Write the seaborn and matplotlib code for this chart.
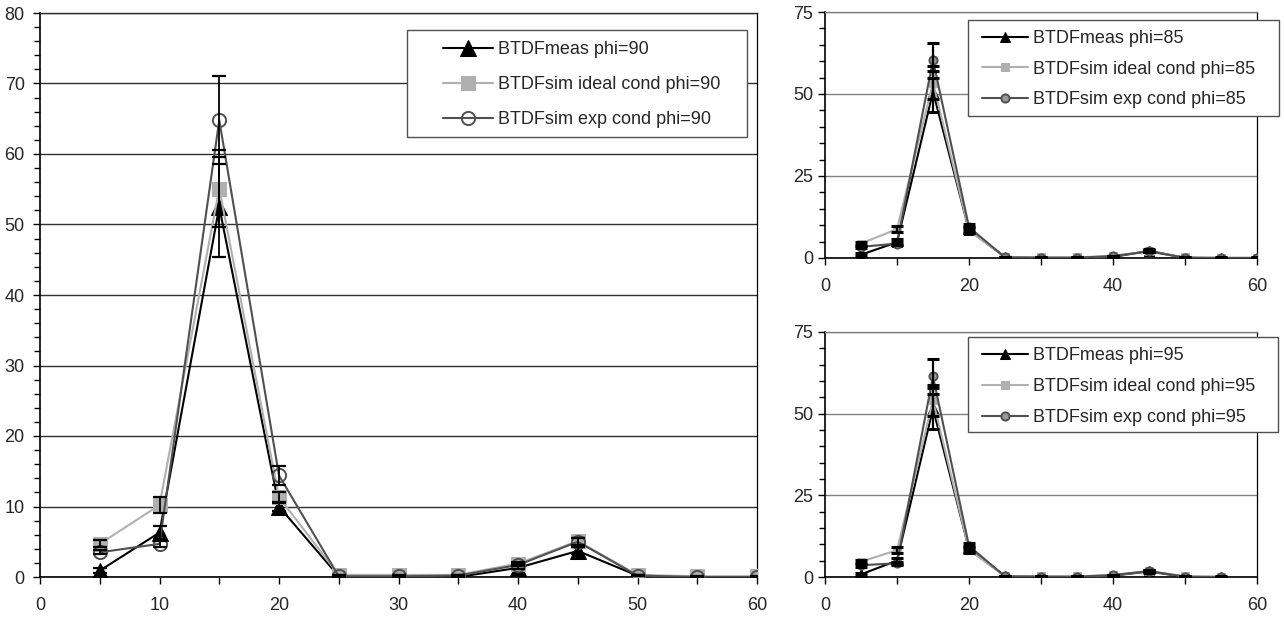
import numpy as np
import pandas as pd
import matplotlib
matplotlib.use("Agg")
import matplotlib.pyplot as plt
from matplotlib.patches import Rectangle
from matplotlib.ticker import MultipleLocator
import seaborn as sns

# Incidence angle (deg)
angle = [5, 10, 15, 20, 25, 30, 35, 40, 45, 50, 55, 60]
angle_95 = [5, 10, 15, 20, 25, 30, 35, 40, 45, 50, 55]

# phi = 90
meas_90 = [0.9, 6.3, 52.5, 10.0, 0.1, 0.1, 0.0, 1.3, 3.7, 0.2, 0.0, 0.0]
meas_90_err = [0.4, 0.95, 7.1, 0.7, 0.05, 0.05, 0.05, 0.2, 0.5, 0.05, 0.05, 0.05]
ideal_90 = [4.7, 10.2, 55.1, 11.3, 0.3, 0.3, 0.3, 1.9, 5.1, 0.3, 0.1, 0.1]
ideal_90_err = [0.5, 1.1, 5.4, 0.8, 0.05, 0.05, 0.05, 0.2, 0.5, 0.05, 0.05, 0.05]
exp_90 = [3.5, 4.7, 64.8, 14.4, 0.1, 0.1, 0.2, 1.7, 5.0, 0.2, 0.0, 0.0]
exp_90_err = [0.3, 0.4, 6.2, 1.4, 0.05, 0.05, 0.05, 0.2, 0.5, 0.05, 0.05, 0.05]

# phi = 85
meas_85 = [1.0, 4.8, 50.7, 8.5, 0.3, 0.0, 0.0, 0.3, 2.2, 0.0, 0.0, 0.0]
meas_85_err = [0.5, 0.9, 6.3, 0.9, 0.1, 0.1, 0.1, 0.2, 0.4, 0.1, 0.1, 0.1]
ideal_85 = [4.4, 8.8, 53.5, 8.4, 0.3, 0.2, 0.2, 0.6, 2.0, 0.2, 0.1, 0.1]
ideal_85_err = [0.5, 1.0, 5.0, 0.9, 0.1, 0.1, 0.1, 0.1, 0.3, 0.1, 0.1, 0.1]
exp_85 = [3.4, 4.4, 60.3, 9.4, 0.2, 0.1, 0.1, 0.6, 2.0, 0.1, 0.0, 0.0]
exp_85_err = [0.4, 0.5, 5.3, 0.9, 0.1, 0.1, 0.1, 0.1, 0.3, 0.1, 0.1, 0.1]

# phi = 95
meas_95 = [0.8, 5.0, 51.6, 8.5, 0.3, 0.0, 0.0, 0.4, 1.7, 0.0, 0.0]
meas_95_err = [0.5, 0.9, 6.4, 0.9, 0.1, 0.1, 0.1, 0.2, 0.4, 0.1, 0.1]
ideal_95 = [4.7, 8.2, 54.1, 8.3, 0.3, 0.2, 0.2, 0.6, 1.8, 0.2, 0.1]
ideal_95_err = [0.5, 1.0, 4.8, 0.9, 0.1, 0.1, 0.1, 0.1, 0.3, 0.1, 0.1]
exp_95 = [3.6, 4.2, 61.4, 9.5, 0.2, 0.1, 0.1, 0.6, 1.8, 0.1, 0.0]
exp_95_err = [0.4, 0.5, 5.4, 0.9, 0.1, 0.1, 0.1, 0.1, 0.3, 0.1, 0.1]

sns.set_style("white")
plt.rcParams["font.family"] = ["Liberation Sans", "DejaVu Sans"]
plt.rcParams["font.size"] = 13

C_MEAS = "#000000"
C_IDEAL = "#b0b0b0"
C_EXP = "#505050"

fig = plt.figure(figsize=(12.84, 6.19), dpi=100)
ax_main = fig.add_axes([40 / 1284, 42 / 619, 717 / 1284, 564 / 619])
ax_85 = fig.add_axes([825 / 1284, 361 / 619, 432 / 1284, 246 / 619])
ax_95 = fig.add_axes([825 / 1284, 42 / 619, 432 / 1284, 245 / 619])


def draw_series(ax, x, series, big):
    scale = 1.0 if big else 0.62
    styles = [
        dict(color=C_MEAS, marker="^", markersize=11 * scale, markerfacecolor=C_MEAS,
             markeredgecolor=C_MEAS, linewidth=1.5),
        dict(color=C_IDEAL, marker="s", markersize=9.5 * scale, markerfacecolor=C_IDEAL,
             markeredgecolor=C_IDEAL, linewidth=1.5),
        dict(color=C_EXP, marker="o", markersize=9.5 * scale,
             markerfacecolor="none" if big else "#9a9a9a",
             markeredgecolor=C_EXP, markeredgewidth=1.4, linewidth=1.5),
    ]
    for (label, y, err), st in zip(series, styles):
        df = pd.DataFrame({"theta": x, "btdf": y})
        sns.lineplot(data=df, x="theta", y="btdf", ax=ax, label=label, zorder=3, **st)
    for label, y, err in series:
        ax.errorbar(x, y, yerr=err, fmt="none", ecolor="black",
                    elinewidth=1.3 if big else 1.6,
                    capsize=5 if big else 4.5, capthick=1.6 if big else 2.2, zorder=4)


def style_axes(ax, ymax, ymaj, ymin, xmaj, xmin, gridc, ypad):
    ax.set_xlim(0, 60)
    ax.set_ylim(0, ymax)
    ax.xaxis.set_major_locator(MultipleLocator(xmaj))
    ax.xaxis.set_minor_locator(MultipleLocator(xmin))
    ax.yaxis.set_major_locator(MultipleLocator(ymaj))
    ax.yaxis.set_minor_locator(MultipleLocator(ymin))
    ax.set_xlabel("")
    ax.set_ylabel("")
    ax.yaxis.grid(True, which="major", color=gridc, linewidth=1.0)
    ax.xaxis.grid(False)
    ax.set_axisbelow(True)
    ax.tick_params(axis="both", which="both", direction="out", color="black",
                   labelsize=13, left=True, bottom=True)
    ax.tick_params(axis="both", which="major", length=5, width=1)
    ax.tick_params(axis="both", which="minor", length=4, width=1)
    ax.tick_params(axis="x", which="minor", length=5)
    ax.tick_params(axis="x", which="major", pad=9.3)
    ax.tick_params(axis="y", which="major", pad=ypad)
    for side in ["left", "bottom"]:
        ax.spines[side].set_color("black")
        ax.spines[side].set_linewidth(1.2)
    ax.spines["right"].set_color("black")
    ax.spines["right"].set_linewidth(0.9)
    ax.spines["top"].set_color(gridc)
    ax.spines["top"].set_linewidth(1.0)
    for sp in ax.spines.values():
        sp.set_visible(True)


def legend_box(ax, rect_px, anchor_px, handlelength, labelspacing):
    x0, y0, x1, y1 = rect_px
    r = Rectangle((x0 / 1284, 1 - y1 / 619), (x1 - x0) / 1284, (y1 - y0) / 619,
                  transform=fig.transFigure, facecolor="white", edgecolor="#505050",
                  linewidth=1.0, clip_on=False, zorder=6)
    ax.add_artist(r)
    leg = ax.legend(loc="upper left", frameon=False, fontsize=13,
                    bbox_to_anchor=(anchor_px[0] / 1284, 1 - anchor_px[1] / 619),
                    bbox_transform=fig.transFigure, borderpad=0, borderaxespad=0,
                    handlelength=handlelength, handletextpad=0.25,
                    labelspacing=labelspacing)
    leg.set_zorder(7)


draw_series(ax_main, angle, [
    ("BTDFmeas phi=90", meas_90, meas_90_err),
    ("BTDFsim ideal cond phi=90", ideal_90, ideal_90_err),
    ("BTDFsim exp cond phi=90", exp_90, exp_90_err),
], big=True)
style_axes(ax_main, 80, 10, 2, 10, 5, "#303030", 6.0)
legend_box(ax_main, (407, 30, 747, 137), (443, 41), 2.78, 1.0)

draw_series(ax_85, angle, [
    ("BTDFmeas phi=85", meas_85, meas_85_err),
    ("BTDFsim ideal cond phi=85", ideal_85, ideal_85_err),
    ("BTDFsim exp cond phi=85", exp_85, exp_85_err),
], big=False)
style_axes(ax_85, 75, 25, 5, 20, 10, "#808080", 3.5)
legend_box(ax_85, (968, 20, 1279, 116), (982, 30), 2.55, 0.75)

draw_series(ax_95, angle_95, [
    ("BTDFmeas phi=95", meas_95, meas_95_err),
    ("BTDFsim ideal cond phi=95", ideal_95, ideal_95_err),
    ("BTDFsim exp cond phi=95", exp_95, exp_95_err),
], big=False)
style_axes(ax_95, 75, 25, 5, 20, 10, "#808080", 3.5)
legend_box(ax_95, (968, 337, 1278, 432), (982, 347), 2.55, 0.78)

fig.savefig("out.png", dpi=100)
